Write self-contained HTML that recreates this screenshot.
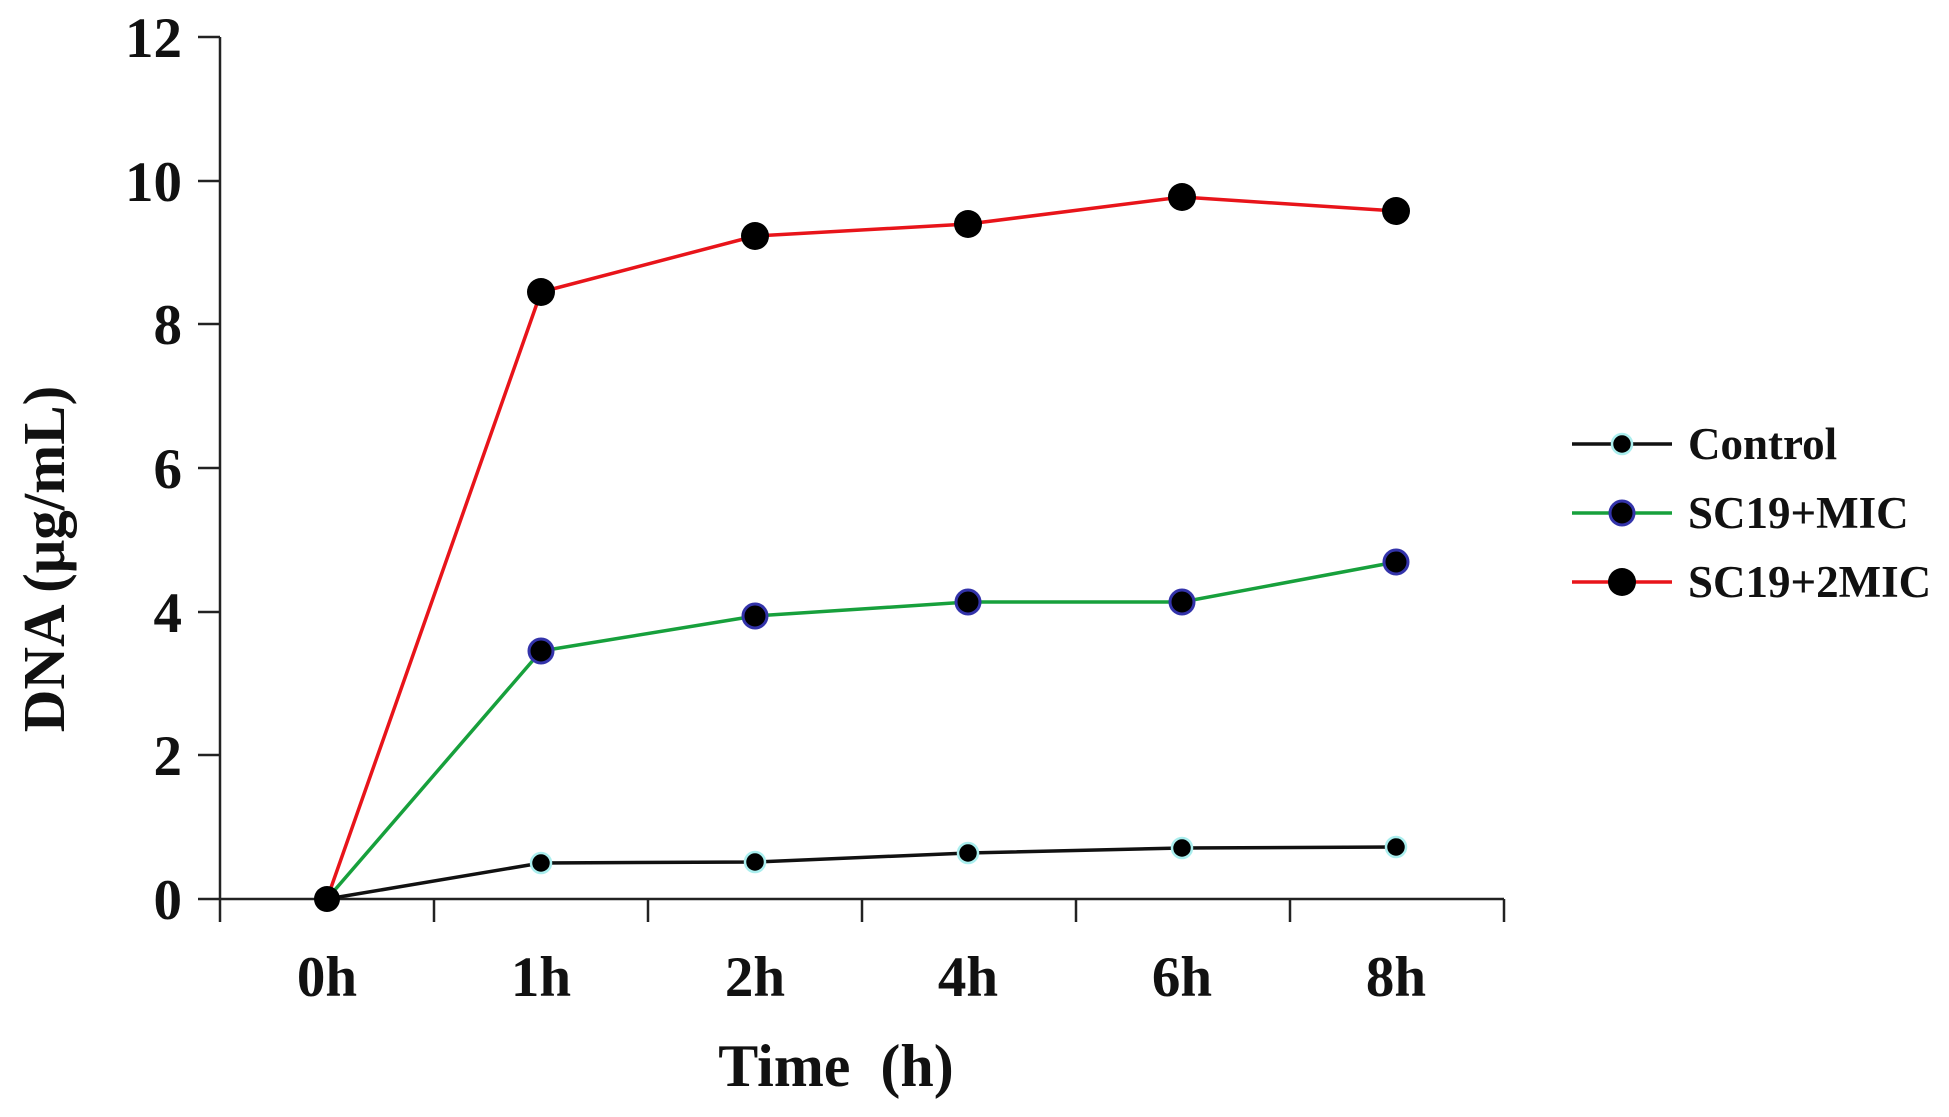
<!DOCTYPE html><html><head><style>body{margin:0;background:#fff}svg{display:block}text{font-family:"Liberation Serif",serif;font-weight:bold;fill:#111}</style></head><body>
<svg width="1949" height="1117" viewBox="0 0 1949 1117">
<g stroke="#222" stroke-width="2.5" fill="none">
<line x1="220" y1="37" x2="220" y2="922"/>
<line x1="220" y1="899" x2="1504" y2="899"/>
<line x1="198" y1="37" x2="220" y2="37"/><line x1="198" y1="181" x2="220" y2="181"/><line x1="198" y1="324" x2="220" y2="324"/><line x1="198" y1="468" x2="220" y2="468"/><line x1="198" y1="612" x2="220" y2="612"/><line x1="198" y1="755" x2="220" y2="755"/><line x1="198" y1="899" x2="220" y2="899"/>
<line x1="434" y1="899" x2="434" y2="922"/><line x1="648" y1="899" x2="648" y2="922"/><line x1="862" y1="899" x2="862" y2="922"/><line x1="1076" y1="899" x2="1076" y2="922"/><line x1="1290" y1="899" x2="1290" y2="922"/><line x1="1504" y1="899" x2="1504" y2="922"/>
</g>
<g font-size="57" text-anchor="end">
<text x="182" y="57">12</text><text x="182" y="201">10</text><text x="182" y="344">8</text><text x="182" y="488">6</text><text x="182" y="632">4</text><text x="182" y="775">2</text><text x="182" y="919">0</text>
</g>
<g font-size="57" text-anchor="middle">
<text x="327" y="996">0h</text><text x="541" y="996">1h</text><text x="755" y="996">2h</text><text x="968" y="996">4h</text><text x="1182" y="996">6h</text><text x="1396" y="996">8h</text>
<text x="836" y="1086" font-size="60" xml:space="preserve">Time  (h)</text>
<text transform="translate(64,559) rotate(-90)" font-size="59">DNA (μg/mL)</text>
</g>
<polyline fill="none" stroke="#e8141a" stroke-width="3.5" points="327,899 541,292 755,236 968,224 1182,197 1396,211"/>
<polyline fill="none" stroke="#17a03c" stroke-width="3.5" points="327,899 541,651 755,616 968,602 1182,602 1396,562"/>
<polyline fill="none" stroke="#111" stroke-width="3.5" points="327,899 541,863 755,862 968,853 1182,848 1396,847"/>
<g fill="#000">
<circle cx="327" cy="899" r="13"/>
<g stroke="#aee" stroke-width="2.5"><circle cx="541" cy="863" r="10"/><circle cx="755" cy="862" r="10"/><circle cx="968" cy="853" r="10"/><circle cx="1182" cy="848" r="10"/><circle cx="1396" cy="847" r="10"/></g>
<g stroke="#33a" stroke-width="3"><circle cx="541" cy="651" r="12"/><circle cx="755" cy="616" r="12"/><circle cx="968" cy="602" r="12"/><circle cx="1182" cy="602" r="12"/><circle cx="1396" cy="562" r="12"/></g>
<circle cx="541" cy="292" r="14"/><circle cx="755" cy="236" r="14"/><circle cx="968" cy="224" r="14"/><circle cx="1182" cy="197" r="14"/><circle cx="1396" cy="211" r="14"/>
</g>
<line x1="1572" y1="444" x2="1672" y2="444" stroke="#111" stroke-width="3.5"/>
<circle cx="1622" cy="444" r="10" fill="#000" stroke="#aee" stroke-width="2.5"/>
<line x1="1572" y1="513" x2="1672" y2="513" stroke="#17a03c" stroke-width="3.5"/>
<circle cx="1622" cy="513" r="12" fill="#000" stroke="#33a" stroke-width="3"/>
<line x1="1572" y1="582" x2="1672" y2="582" stroke="#e8141a" stroke-width="3.5"/>
<circle cx="1622" cy="582" r="14" fill="#000"/>
<g font-size="45"><text x="1688" y="459">Control</text><text x="1688" y="528">SC19+MIC</text><text x="1688" y="597">SC19+2MIC</text></g>
</svg></body></html>
